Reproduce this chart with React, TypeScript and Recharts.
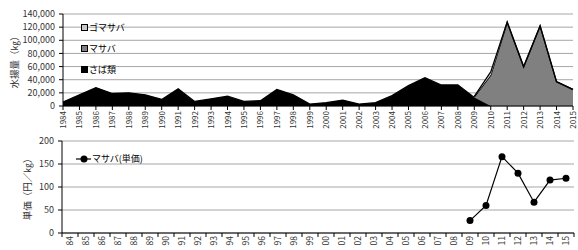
import React from "react";
import {
  AreaChart,
  Area,
  LineChart,
  Line,
  XAxis,
  YAxis,
  CartesianGrid,
  Legend,
} from "recharts";

const years = [
  1984, 1985, 1986, 1987, 1988, 1989, 1990, 1991, 1992, 1993, 1994, 1995,
  1996, 1997, 1998, 1999, 2000, 2001, 2002, 2003, 2004, 2005, 2006, 2007,
  2008, 2009, 2010, 2011, 2012, 2013, 2014, 2015,
];

// 水揚量 (kg)
const sabaCatch = [
  6000, 17000, 28000, 19000, 20000, 17000, 10000, 26000, 7000, 11000, 15000,
  7000, 8000, 25000, 17000, 3000, 5000, 9000, 3000, 5000, 16000, 31000, 43000,
  32000, 32000, 13000, 0, null, null, null, null, null,
];
const masabaCatch = [
  null, null, null, null, null, null, null, null, null, null, null, null,
  null, null, null, null, null, null, null, null, null, null, null, null,
  null, 1000, 47000, 127000, 59500, 121500, 36700, 25000,
];
const gomasabaCatch = [
  null, null, null, null, null, null, null, null, null, null, null, null,
  null, null, null, null, null, null, null, null, null, null, null, null,
  null, 500, 5000, 1000, 500, 500, 300, 300,
];

// マサバ単価 (円/kg)
const masabaPrice = [
  null, null, null, null, null, null, null, null, null, null, null, null,
  null, null, null, null, null, null, null, null, null, null, null, null,
  null, 27, 60, 166, 130, 67, 115, 119,
];

const catchTicks = [0, 20000, 40000, 60000, 80000, 100000, 120000, 140000];
const priceTicks = [0, 50, 100, 150, 200];

const catchSeries = [
  { key: "saba", name: "さば類", fill: "#000000" },
  { key: "masaba", name: "マサバ", fill: "#808080" },
  { key: "gomasaba", name: "ゴマサバ", fill: "#c8c8c8" },
];

const catchData = years.map((year, i) => ({
  year,
  saba: sabaCatch[i],
  masaba: masabaCatch[i],
  gomasaba: gomasabaCatch[i],
}));

const priceData = years.map((year, i) => ({ year, price: masabaPrice[i] }));

// 価格グラフ用：年の目盛と、その間の目盛線
const priceXTicks = [...years.flatMap((y) => [y - 0.5, y]), 2015.5];

const FONT = "'Noto Sans CJK JP', 'Noto Sans', sans-serif";
const TEXT = "#333333";
const GRID = "#a6a6a6";

const CatchYearTick = (props: any) => {
  const { x, y, payload } = props;
  return (
    <g transform={`translate(${x}, ${y})`}>
      <text
        x={0}
        y={0}
        dy={3}
        transform="rotate(-90)"
        textAnchor="end"
        fontSize={8}
        fontFamily={FONT}
        fill={TEXT}
      >
        {payload.value}
      </text>
    </g>
  );
};

const PriceYearTick = (props: any) => {
  const { x, y, payload } = props;
  const v = payload.value as number;
  if (!Number.isInteger(v)) {
    return <line x1={x} x2={x} y1={y} y2={y + 4} stroke="#000" />;
  }
  return (
    <g transform={`translate(${x}, ${y + 3})`}>
      <text
        x={0}
        y={0}
        dy={3}
        transform="rotate(-90)"
        textAnchor="end"
        fontSize={8.5}
        fontFamily={FONT}
        fill={TEXT}
      >
        {String(v).slice(2)}
      </text>
    </g>
  );
};

const CatchLegend = () => (
  <div style={{ fontFamily: FONT, fontSize: 9, color: "#000" }}>
    {[...catchSeries].reverse().map((s) => (
      <div
        key={s.key}
        style={{ display: "flex", alignItems: "center", height: 21 }}
      >
        <span
          style={{
            display: "inline-block",
            width: 5,
            height: 5,
            background: s.fill,
            border: "1px solid #000",
            marginRight: 1,
          }}
        />
        <span>{s.name}</span>
      </div>
    ))}
  </div>
);

const PriceLegend = () => (
  <div
    style={{
      fontFamily: FONT,
      fontSize: 9,
      color: "#000",
      display: "flex",
      alignItems: "center",
    }}
  >
    <svg width={16} height={10}>
      <line x1={0} x2={15} y1={5} y2={5} stroke="#000" strokeWidth={1.2} />
      <circle cx={8} cy={5} r={3.5} fill="#000" />
    </svg>
    <span>マサバ(単価)</span>
  </div>
);

const YLabel = ({ viewBox, text, lx }: any) => {
  const cy = viewBox.y + viewBox.height / 2;
  return (
    <g transform={`translate(${lx}, ${cy})`}>
      <text
        x={0}
        y={0}
        transform="rotate(-90)"
        textAnchor="middle"
        dominantBaseline="central"
        fontSize={9.5}
        fontFamily={FONT}
        fill={TEXT}
      >
        {text}
      </text>
    </g>
  );
};

export default function App() {
  return (
    <div
      style={{
        position: "absolute",
        left: 0,
        top: 0,
        width: 578,
        height: 250,
        background: "#fff",
      }}
    >
      <AreaChart
        width={578}
        height={130}
        data={catchData}
        margin={{ top: 14, right: 5, bottom: 0, left: 0 }}
      >
        <CartesianGrid vertical={false} stroke={GRID} />
        <XAxis
          dataKey="year"
          interval={0}
          height={24}
          tick={<CatchYearTick />}
          tickSize={4}
          tickMargin={1}
          tickLine={{ stroke: "#000" }}
          axisLine={{ stroke: "#000" }}
        />
        <YAxis
          width={63}
          domain={[0, 140000]}
          ticks={catchTicks}
          interval={0}
          tickFormatter={(v: number) => v.toLocaleString("en-US")}
          tick={{ fontSize: 9, fontFamily: FONT, fill: TEXT }}
          tickSize={4}
          tickMargin={4}
          tickLine={{ stroke: "#000" }}
          axisLine={{ stroke: "#000" }}
          label={<YLabel text="水揚量（㎏）" lx={14} />}
        />
        {catchSeries.map((s) => (
          <Area
            key={s.key}
            type="linear"
            stackId="catch"
            dataKey={s.key}
            name={s.name}
            stroke="#000"
            strokeWidth={1.3}
            fill={s.fill}
            fillOpacity={1}
            isAnimationActive={false}
          />
        ))}
        <Legend
          layout="vertical"
          align="center"
          verticalAlign="middle"
          content={<CatchLegend />}
          wrapperStyle={{ left: 81, top: 17, width: "auto" }}
        />
      </AreaChart>
      <div style={{ position: "absolute", left: 0, top: 130 }}>
        <LineChart
          width={578}
          height={120}
          data={priceData}
          margin={{ top: 11, right: 4, bottom: 0, left: 0 }}
        >
          <CartesianGrid vertical={false} stroke={GRID} />
          <XAxis
            dataKey="year"
            type="number"
            domain={[1983.5, 2015.5]}
            ticks={priceXTicks}
            interval={0}
            height={17}
            tick={<PriceYearTick />}
            tickSize={0}
            tickMargin={0}
            tickLine={false}
            axisLine={{ stroke: "#000" }}
          />
          <YAxis
            width={62}
            domain={[0, 200]}
            ticks={priceTicks}
            interval={0}
            tick={{ fontSize: 9, fontFamily: FONT, fill: TEXT }}
            tickSize={4}
            tickMargin={4}
            tickLine={{ stroke: "#000" }}
            axisLine={{ stroke: "#000" }}
            label={<YLabel text="単価（円／㎏）" lx={27} />}
          />
          <Line
            type="linear"
            dataKey="price"
            name="マサバ(単価)"
            stroke="#000"
            strokeWidth={1.2}
            dot={{ r: 3.5, fill: "#000", stroke: "#000", strokeWidth: 0 }}
            isAnimationActive={false}
          />
          <Legend
            layout="vertical"
            align="center"
            verticalAlign="middle"
            content={<PriceLegend />}
            wrapperStyle={{ left: 76, top: 22, width: "auto" }}
          />
        </LineChart>
      </div>
    </div>
  );
}
